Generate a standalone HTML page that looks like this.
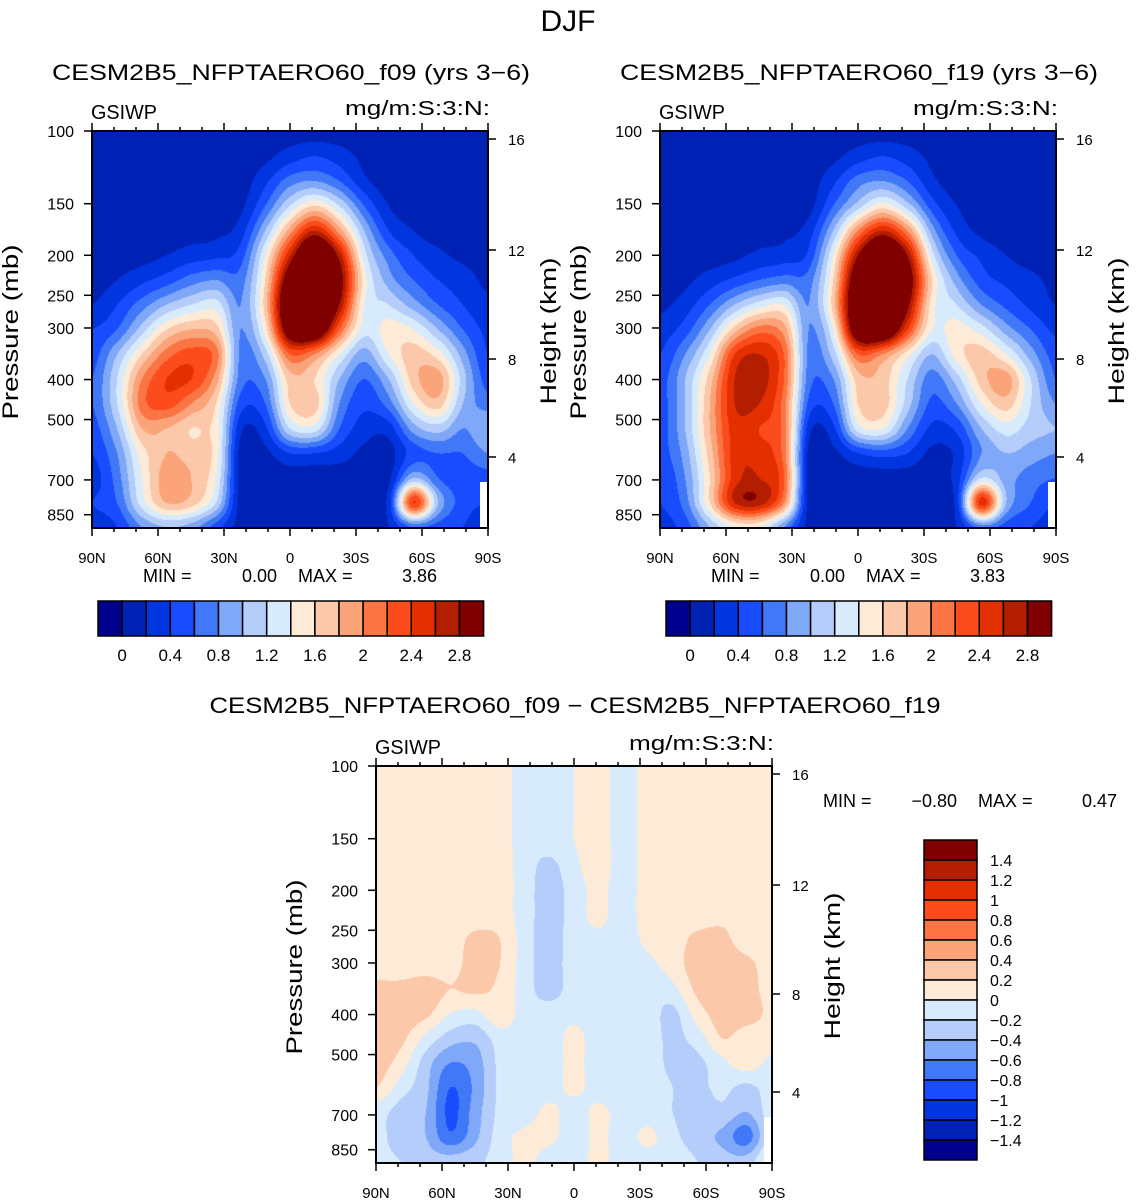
<!DOCTYPE html>
<html><head><meta charset="utf-8">
<style>
body{margin:0;background:#fff;}
#wrap{position:relative;width:1137px;height:1201px;overflow:hidden;background:#fff;}
canvas{position:absolute;}
svg{position:absolute;left:0;top:0;}
text{font-family:"Liberation Sans",sans-serif;fill:#000;}
</style></head>
<body>
<div id="wrap">
<canvas id="c1" width="396" height="397" style="left:92px;top:131px"></canvas>
<canvas id="c2" width="396" height="397" style="left:660px;top:131px"></canvas>
<canvas id="c3" width="396" height="396" style="left:376px;top:766px"></canvas>
<svg id="s" width="1137" height="1201"></svg>
</div>
<script>
const colors=["#00008f","#0022b4","#0035e0","#1a4cff","#4078f8","#80a8f8","#b4cdfa","#d8ebfc","#fdebd8","#fcc8aa","#fba47a","#fb7444","#fc4c1c","#e43000","#b41e00","#800000"];
const levels1=[0,0.2,0.4,0.6,0.8,1,1.2,1.4,1.6,1.8,2,2.2,2.4,2.6,2.8];
const levels3=[-1.4,-1.2,-1,-0.8,-0.6,-0.4,-0.2,0,0.2,0.4,0.6,0.8,1,1.2,1.4];
const cbLabels1=["0","0.4","0.8","1.2","1.6","2","2.4","2.8"];
const cbLabels3=["1.4","1.2","1","0.8","0.6","0.4","0.2","0","\u22120.2","\u22120.4","\u22120.6","\u22120.8","\u22121","\u22121.2","\u22121.4"];
const latLabels=["90N","60N","30N","0","30S","60S","90S"];
const presLabels=[100,150,200,250,300,400,500,700,850];
const heightLabels=[16,12,8,4];
const grid1=[
[.1,.1,.1,.1,.1,.1,.1,.1,.1,.1,.1,.1,.1,.1,.1,.1,.1],
[.1,.1,.1,.1,.1,.1,.1,.15,.3,.4,.3,.15,.1,.1,.1,.1,.1],
[.1,.1,.1,.1,.1,.1,.1,.35,.7,.8,.6,.25,.1,.1,.1,.1,.1],
[.1,.1,.1,.1,.1,.1,.15,.6,1.2,1.6,1.2,.6,.2,.1,.1,.1,.1],
[.1,.1,.1,.1,.12,.15,.3,1.0,1.9,2.6,1.9,1.0,.4,.2,.1,.1,.1],
[.1,.1,.12,.2,.3,.35,.5,1.4,2.6,3.6,2.7,1.3,.7,.4,.25,.15,.1],
[.1,.2,.35,.5,.7,.8,.7,1.6,3.2,3.9,3.0,1.5,.9,.6,.4,.3,.15],
[.2,.4,.7,1.0,1.2,1.3,.8,1.7,3.5,3.9,2.8,1.4,1.2,.9,.6,.4,.25],
[.4,.6,1.1,1.6,1.8,1.7,.8,1.5,3.2,3.4,2.2,1.3,1.5,1.4,1.0,.6,.35],
[.5,1.0,1.6,2.1,2.3,2.1,.75,1.1,2.2,2.0,1.4,.9,1.4,1.7,1.5,.9,.4],
[.6,1.2,2.0,2.4,2.4,1.9,.7,.8,1.7,1.6,1.0,.6,1.0,1.7,1.9,1.1,.5],
[.6,1.2,2.1,2.3,2.0,1.6,.5,.6,1.6,1.7,.8,.45,.7,1.4,1.7,1.0,.7],
[.5,1.0,1.8,1.8,1.6,1.5,.25,.35,1.2,1.3,.6,.3,.3,.9,1.1,.8,1.0],
[.4,.8,1.5,1.8,1.7,1.5,.12,.15,.4,.4,.3,.15,.12,.5,.6,.6,.8],
[.3,.7,1.4,1.9,1.8,1.4,.12,.1,.1,.1,.1,.1,.15,1.0,.6,.5,.5],
[.4,.6,1.3,1.8,1.7,1.2,.12,.1,.1,.1,.1,.1,.3,2.4,1.0,.5,.4],
[.3,.4,.8,1.0,.9,.5,.12,.1,.1,.1,.1,.1,.2,.6,.5,.4,.3]];
const grid2=[
[.1,.1,.1,.1,.1,.1,.1,.1,.1,.1,.1,.1,.1,.1,.1,.1,.1],
[.1,.1,.1,.1,.1,.1,.1,.15,.3,.4,.3,.15,.1,.1,.1,.1,.1],
[.1,.1,.1,.1,.1,.1,.1,.35,.7,.8,.6,.25,.1,.1,.1,.1,.1],
[.1,.1,.1,.1,.1,.1,.12,.6,1.1,1.5,1.1,.5,.2,.1,.1,.1,.1],
[.1,.1,.1,.1,.12,.15,.3,1.0,2.0,2.6,2.0,.9,.35,.15,.1,.1,.1],
[.1,.1,.1,.15,.25,.3,.45,1.4,2.8,3.6,2.8,1.3,.6,.35,.2,.12,.1],
[.1,.15,.3,.45,.6,.7,.7,1.6,3.3,3.9,3.1,1.6,.9,.5,.35,.25,.15],
[.15,.3,.6,1.0,1.3,1.4,.8,1.7,3.5,3.9,2.9,1.5,1.2,.8,.55,.35,.2],
[.3,.5,1.0,1.7,2.1,1.9,.8,1.4,3.3,3.5,2.4,1.4,1.5,1.3,.9,.6,.35],
[.4,.8,1.4,2.4,2.6,2.2,.75,1.1,2.2,2.0,1.5,1.0,1.5,1.7,1.4,.9,.5],
[.5,1.0,1.7,2.6,2.7,2.2,.7,.8,1.7,1.7,1.2,.7,1.1,1.7,1.9,1.2,.6],
[.5,1.0,1.8,2.6,2.6,2.1,.55,.6,1.6,1.7,1.1,.55,.8,1.4,1.7,1.2,.8],
[.5,1.0,1.8,2.5,2.4,2.1,.3,.35,1.3,1.4,.8,.35,.45,1.0,1.3,1.1,1.0],
[.5,.9,1.7,2.5,2.5,2.1,.15,.15,.4,.5,.4,.15,.25,.8,1.0,.9,.8],
[.4,.8,1.6,2.5,2.6,2.2,.12,.1,.1,.1,.1,.1,.3,1.2,.9,.7,.6],
[.4,.7,1.6,2.6,2.7,2.0,.12,.1,.1,.1,.1,.1,.3,2.5,1.0,.6,.4],
[.3,.5,1.0,1.4,1.4,.8,.12,.1,.1,.1,.1,.1,.2,.7,.5,.4,.3]];
const grid3=[
[.1,.1,.1,.1,.1,.1,-.1,-.1,0,.1,-.1,.1,.1,.1,.1,.1,.1],
[.1,.1,.1,.1,.1,.1,-.1,-.1,0,.1,-.1,.1,.1,.1,.1,.1,.1],
[.1,.1,.1,.1,.1,.1,-.1,-.1,0,.1,-.1,.1,.1,.1,.1,.1,.1],
[.1,.1,.1,.1,.1,.1,-.1,-.1,0,.1,-.1,.1,.1,.1,.1,.1,.1],
[.1,.1,.1,.1,.1,.1,-.1,-.25,-.05,.1,-.1,.1,.1,.1,.1,.1,.1],
[.1,.1,.1,.1,.1,.1,-.1,-.3,-.1,.05,-.1,.1,.1,.1,.1,.1,.1],
[.1,.1,.1,.1,.1,.1,-.1,-.3,-.1,.05,-.1,.1,.1,.1,.15,.1,.1],
[.1,.1,.1,.1,.25,.2,-.1,-.3,-.1,-.05,-.1,.05,.1,.25,.25,.1,.1],
[.1,.1,.1,.1,.3,.2,-.1,-.3,-.1,-.15,-.1,-.05,.1,.3,.3,.25,.1],
[.25,.25,.3,.2,.25,.15,-.1,-.3,-.1,-.1,-.1,-.15,-.05,.25,.35,.3,.1],
[.3,.3,.25,0,-.05,.15,-.1,-.1,-.05,-.1,-.1,-.1,-.25,.1,.3,.3,.15],
[.3,.25,-.05,-.3,-.35,-.1,-.1,-.1,.05,-.1,-.1,-.1,-.25,-.1,.2,.1,.1],
[.3,.1,-.3,-.6,-.5,-.15,-.1,-.1,.05,-.1,-.1,-.1,-.25,-.25,-.05,.1,-.05],
[.2,-.1,-.35,-.8,-.55,-.15,-.1,-.1,.05,-.1,-.1,-.1,-.2,-.25,-.15,-.25,-.1],
[-.1,-.3,-.4,-.85,-.5,-.15,-.1,.05,-.1,.05,-.1,-.1,-.2,-.3,-.25,-.4,-.1],
[-.1,-.35,-.4,-.75,-.45,-.1,.05,.05,-.1,.05,-.1,.05,-.15,-.3,-.45,-.7,-.1],
[-.1,-.2,-.3,-.3,-.25,-.1,.05,-.1,-.1,.05,-.1,-.1,-.1,-.2,-.3,-.3,.1]];

function hex(h){return [parseInt(h.substr(1,2),16),parseInt(h.substr(3,2),16),parseInt(h.substr(5,2),16)];}
const rgb=colors.map(hex);
function cr(p0,p1,p2,p3,t){return 0.5*(2*p1+(-p0+p2)*t+(2*p0-5*p1+4*p2-p3)*t*t+(-p0+3*p1-3*p2+p3)*t*t*t);}
function sample(g,gx,gy){
  const n=g.length-1,m=g[0].length-1;
  const i=Math.min(Math.floor(gy),n-1),j=Math.min(Math.floor(gx),m-1);
  const ty=gy-i,tx=gx-j;
  const rows=[];
  for(let a=-1;a<=2;a++){
    const r=g[Math.max(0,Math.min(n,i+a))];
    const v=[];
    for(let b=-1;b<=2;b++)v.push(r[Math.max(0,Math.min(m,j+b))]);
    rows.push(cr(v[0],v[1],v[2],v[3],tx));
  }
  return cr(rows[0],rows[1],rows[2],rows[3],ty);
}
function drawField(id,g,levels){
  const cv=document.getElementById(id),ctx=cv.getContext('2d');
  const W=cv.width,H=cv.height,img=ctx.createImageData(W,H);
  let lo=Infinity,hi=-Infinity;
  g.forEach(r=>r.forEach(v=>{lo=Math.min(lo,v);hi=Math.max(hi,v);}));
  for(let y=0;y<H;y++)for(let x=0;x<W;x++){
    let v=sample(g,x/(W-1)*(g[0].length-1),y/(H-1)*(g.length-1));
    v=Math.max(lo,Math.min(hi,v));
    let k=0;while(k<levels.length&&v>=levels[k])k++;
    const c=rgb[k],p=(y*W+x)*4;
    img.data[p]=c[0];img.data[p+1]=c[1];img.data[p+2]=c[2];img.data[p+3]=255;
  }
  ctx.putImageData(img,0,0);
}
drawField('c1',grid1,levels1);
drawField('c2',grid2,levels1);
drawField('c3',grid3,levels3);

const S=document.getElementById('s'),NS='http://www.w3.org/2000/svg';
function txt(x,y,s,size,anchor,name,rot,tl){
  const t=document.createElementNS(NS,'text');
  t.setAttribute('x',x);t.setAttribute('y',y);t.setAttribute('font-size',size);
  t.setAttribute('text-anchor',anchor||'start');
  if(rot)t.setAttribute('transform','rotate(-90 '+x+' '+y+')');
  if(tl){t.setAttribute('textLength',tl);t.setAttribute('lengthAdjust','spacingAndGlyphs');}
  t.textContent=s;
  
  
  S.appendChild(t);return t;
}
function line(x1,y1,x2,y2,w,name){
  const l=document.createElementNS(NS,'line');
  l.setAttribute('x1',x1);l.setAttribute('y1',y1);l.setAttribute('x2',x2);l.setAttribute('y2',y2);
  l.setAttribute('stroke','#000');l.setAttribute('stroke-width',w||1.5);
  
  
  S.appendChild(l);
}
function rect(x,y,w,h,fill,name,sw){
  const r=document.createElementNS(NS,'rect');
  r.setAttribute('x',x);r.setAttribute('y',y);r.setAttribute('width',w);r.setAttribute('height',h);
  r.setAttribute('fill',fill);
  if(sw!==0){r.setAttribute('stroke','#000');r.setAttribute('stroke-width',sw||1.5);}
  
  
  S.appendChild(r);
}
const presY=p=>179.3*Math.log(p/100);
const heightY={16:8,12:119,8:228,4:326};
function panel(px,py,title,tx,ty){
  const W=396,H=397;
  rect(px+W-8,py+H-46,8,46,'#fff','missing-data-patch',0);
  rect(px,py,W,H,'none','plot-frame',2);
  for(let i=0;i<=18;i++){
    const x=px+i*W/18,len=(i%3==0)?8:4;
    line(x,py,x,py-len,1.5,'top-tick');line(x,py+H,x,py+H+len,1.5,'bottom-tick');
  }
  latLabels.forEach((l,i)=>txt(px+i*W/6,py+H+35,l,15,'middle','x-tick-label'));
  presLabels.forEach(p=>{const y=py+presY(p);line(px-8,y,px,y,1.5,'left-tick');txt(px-18,y+6,String(p),16,'end','y-tick-label');});
  heightLabels.forEach(h=>{const y=py+heightY[h];line(px+W,y,px+W+8,y,1.5,'right-tick');txt(px+W+20,y+6,String(h),15,'start','height-tick-label');});
  txt(px-74,py+201,'Pressure (mb)',22,'middle','y-axis-title',true,175);
  txt(px+W+68,py+200,'Height (km)',22,'middle','right-axis-title',true,147);
  txt(px-1,py-12,'GSIWP',20,'start','variable-label',false,66);
  txt(px+W+2,py-16,'mg/m:S:3:N:',20,'end','units-label',false,145);
  if(title)txt(tx,ty,title,22,'middle','panel-title',false,478);
}
txt(568,31,'DJF',30,'middle','figure-title');
panel(92,131,'CESM2B5_NFPTAERO60_f09 (yrs 3\u22126)',291,80);
panel(660,131,'CESM2B5_NFPTAERO60_f19 (yrs 3\u22126)',859,80);
panel(376,766,'',0,0);
txt(575,713,'CESM2B5_NFPTAERO60_f09 \u2212 CESM2B5_NFPTAERO60_f19',22,'middle','diff-title',false,731);
function mm(x,y,a,b){txt(x,y,'MIN =',18,'start','min-label');txt(x+134,y,a,18,'end','min-value');txt(x+155,y,'MAX =',18,'start','max-label');txt(x+294,y,b,18,'end','max-value');}
mm(143,582,'0.00','3.86');mm(711,582,'0.00','3.83');mm(823,807,'\u22120.80','0.47');
function hbar(x0){
  for(let i=0;i<16;i++)rect(x0+i*24.1,601,24.1,35,colors[i],'colorbar-box');
  cbLabels1.forEach((l,i)=>txt(x0+24.1*(1+2*i),661,l,17,'middle','colorbar-label'));
}
hbar(98);hbar(666);
for(let i=0;i<16;i++)rect(924,840+i*20,53,20,colors[15-i],'colorbar-box');
cbLabels3.forEach((l,i)=>txt(990,866+i*20,l,16,'start','colorbar-label'));
</script>
</body></html>
